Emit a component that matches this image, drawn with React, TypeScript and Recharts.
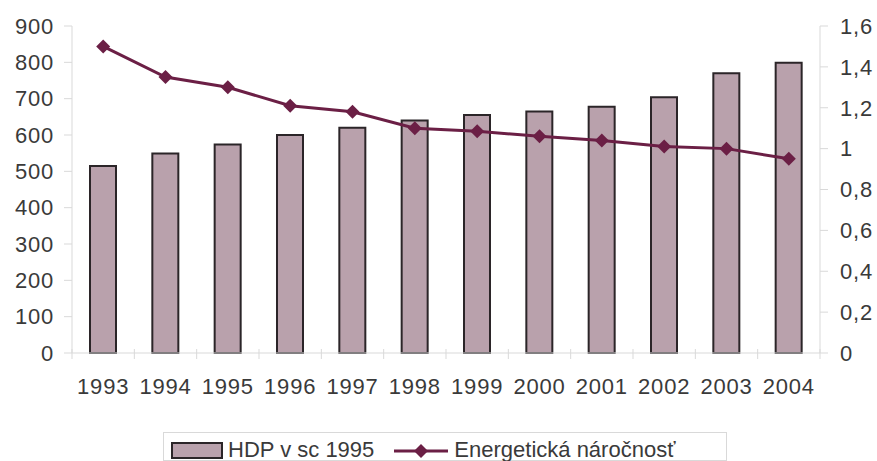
import React from "react";
import {
  ComposedChart,
  Bar,
  Line,
  XAxis,
  YAxis,
  Legend,
} from "recharts";

const years = ["1993", "1994", "1995", "1996", "1997", "1998", "1999", "2000", "2001", "2002", "2003", "2004"];
const hdp = [515, 549, 574, 600, 620, 640, 655, 665, 678, 704, 770, 799];
const narocnost = [1.5, 1.35, 1.3, 1.21, 1.18, 1.1, 1.085, 1.06, 1.04, 1.01, 1.0, 0.95];

const leftTicks = [0, 100, 200, 300, 400, 500, 600, 700, 800, 900];
const rightTicks = [0, 0.2, 0.4, 0.6, 0.8, 1, 1.2, 1.4, 1.6];

const data = years.map((year, i) => ({ year, hdp: hdp[i], narocnost: narocnost[i] }));

const BAR_FILL = "#b9a1ac";
const BAR_STROKE = "#2b2528";
const LINE_COLOR = "#6b1f45";
const AXIS_COLOR = "#d9d9d9";
const TEXT_COLOR = "#3a3a3a";
const FONT = "'Liberation Sans', Arial, sans-serif";
const FS = 22;
const LS = 0.8;

const W = 877;
const H = 461;
const LEFT_W = 72;
const RIGHT_W = 57;
const BAND = (W - LEFT_W - RIGHT_W) / years.length;

const Diamond = (props: any) => {
  const { cx, cy } = props;
  if (cx == null || cy == null) return null;
  const r = 7;
  return (
    <polygon
      points={`${cx},${cy - r} ${cx + r},${cy} ${cx},${cy + r} ${cx - r},${cy}`}
      fill={LINE_COLOR}
    />
  );
};

const YearTick = (props: any) => {
  const { x, y, payload } = props;
  const bx = x - BAND / 2;
  return (
    <g>
      <line x1={bx} x2={bx} y1={y - 12} y2={y - 2} stroke={AXIS_COLOR} />
      {payload.index === years.length - 1 && (
        <line x1={bx + BAND} x2={bx + BAND} y1={y - 12} y2={y - 2} stroke={AXIS_COLOR} />
      )}
      <text
        x={x}
        y={y + 33}
        textAnchor="middle"
        fill={TEXT_COLOR}
        fontSize={FS}
        fontFamily={FONT}
        letterSpacing={LS}
      >
        {payload.value}
      </text>
    </g>
  );
};

const renderLegend = () => (
  <div
    style={{
      border: `1px solid ${AXIS_COLOR}`,
      height: 29,
      boxSizing: "border-box",
      display: "flex",
      alignItems: "flex-start",
      paddingTop: 6,
      fontFamily: FONT,
      fontSize: FS,
      color: TEXT_COLOR,
      overflow: "visible",
    }}
  >
    <svg width={66} height={20} style={{ marginLeft: 6, marginTop: 2 }}>
      <rect x={2} y={2} width={50} height={15} fill={BAR_FILL} stroke={BAR_STROKE} strokeWidth={2} />
    </svg>
    <span style={{ marginLeft: -8, lineHeight: "22px" }}>HDP v sc 1995</span>
    <svg width={60} height={20} style={{ marginLeft: 18, marginTop: 2 }}>
      <line x1={2} x2={56} y1={10} y2={10} stroke={LINE_COLOR} strokeWidth={3} />
      <polygon points="29,3 36,10 29,17 22,10" fill={LINE_COLOR} />
    </svg>
    <span style={{ marginLeft: 2, lineHeight: "22px" }}>Energetická náročnosť</span>
  </div>
);

export default function App() {
  return (
    <div style={{ position: "absolute", left: 0, top: 0, width: W, height: H, background: "#fff", overflow: "hidden" }}>
      <ComposedChart
        width={W}
        height={H}
        data={data}
        margin={{ top: 26, right: 0, bottom: 39, left: 0 }}
        barCategoryGap={0}
      >
        <XAxis
          dataKey="year"
          stroke={AXIS_COLOR}
          tickLine={false}
          tick={<YearTick />}
          interval={0}
          height={40}
        />
        <YAxis
          yAxisId="left"
          domain={[0, 900]}
          ticks={leftTicks}
          width={LEFT_W}
          stroke={AXIS_COLOR}
          tickSize={8}
          tickMargin={10}
          tick={{ fill: TEXT_COLOR, fontSize: FS, fontFamily: FONT, letterSpacing: LS }}
          interval={0}
        />
        <YAxis
          yAxisId="right"
          orientation="right"
          domain={[0, 1.6]}
          ticks={rightTicks}
          width={RIGHT_W}
          stroke={AXIS_COLOR}
          tickSize={8}
          tickMargin={12}
          tickFormatter={(v: number) => String(Math.round(v * 10) / 10).replace(".", ",")}
          tick={{ fill: TEXT_COLOR, fontSize: FS, fontFamily: FONT, letterSpacing: LS, textAnchor: "start" }}
          interval={0}
        />
        <Legend
          content={renderLegend}
          wrapperStyle={{ left: 163, top: 432, width: 564, height: 29 }}
        />
        <Bar
          yAxisId="left"
          dataKey="hdp"
          name="HDP v sc 1995"
          barSize={26}
          fill={BAR_FILL}
          stroke={BAR_STROKE}
          strokeWidth={2}
          isAnimationActive={false}
        />
        <Line
          yAxisId="right"
          dataKey="narocnost"
          name="Energetická náročnosť"
          stroke={LINE_COLOR}
          strokeWidth={3}
          dot={<Diamond />}
          activeDot={false}
          isAnimationActive={false}
        />
      </ComposedChart>
    </div>
  );
}
